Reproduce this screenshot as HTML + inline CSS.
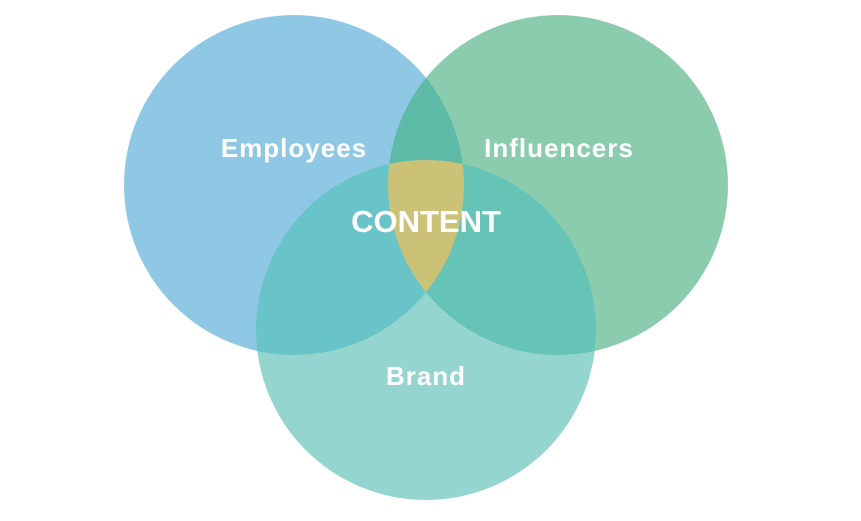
<!DOCTYPE html>
<html><head><meta charset="utf-8"><style>
html,body{margin:0;padding:0;background:#fff;}
svg{display:block}
text{font-family:"Liberation Sans",sans-serif;font-weight:bold;fill:#fff;text-anchor:middle}
</style></head><body>
<svg width="861" height="521" viewBox="0 0 861 521" xmlns="http://www.w3.org/2000/svg">
<defs>
<clipPath id="cL"><circle cx="294" cy="185" r="170"/></clipPath>
<clipPath id="cR"><circle cx="558" cy="185" r="170"/></clipPath>
<clipPath id="cB"><circle cx="426" cy="330" r="170"/></clipPath>
</defs>
<circle cx="294" cy="185" r="170" fill="#8FC8E4"/>
<circle cx="558" cy="185" r="170" fill="#8BCCAF"/>
<circle cx="426" cy="330" r="170" fill="#95D5D0"/>
<circle cx="558" cy="185" r="170" fill="#5DBBA7" clip-path="url(#cL)"/>
<circle cx="426" cy="330" r="170" fill="#69C4C9" clip-path="url(#cL)"/>
<circle cx="426" cy="330" r="170" fill="#66C4B6" clip-path="url(#cR)"/>
<g clip-path="url(#cL)"><g clip-path="url(#cR)"><circle cx="426" cy="330" r="170" fill="#CBC177"/></g></g>
<text x="294" y="157" font-size="26" letter-spacing="1">Employees</text>
<text x="559" y="157" font-size="26" letter-spacing="1">Influencers</text>
<text x="426" y="232" font-size="31">CONTENT</text>
<text x="426" y="385" font-size="26" letter-spacing="1">Brand</text>
</svg>
</body></html>
